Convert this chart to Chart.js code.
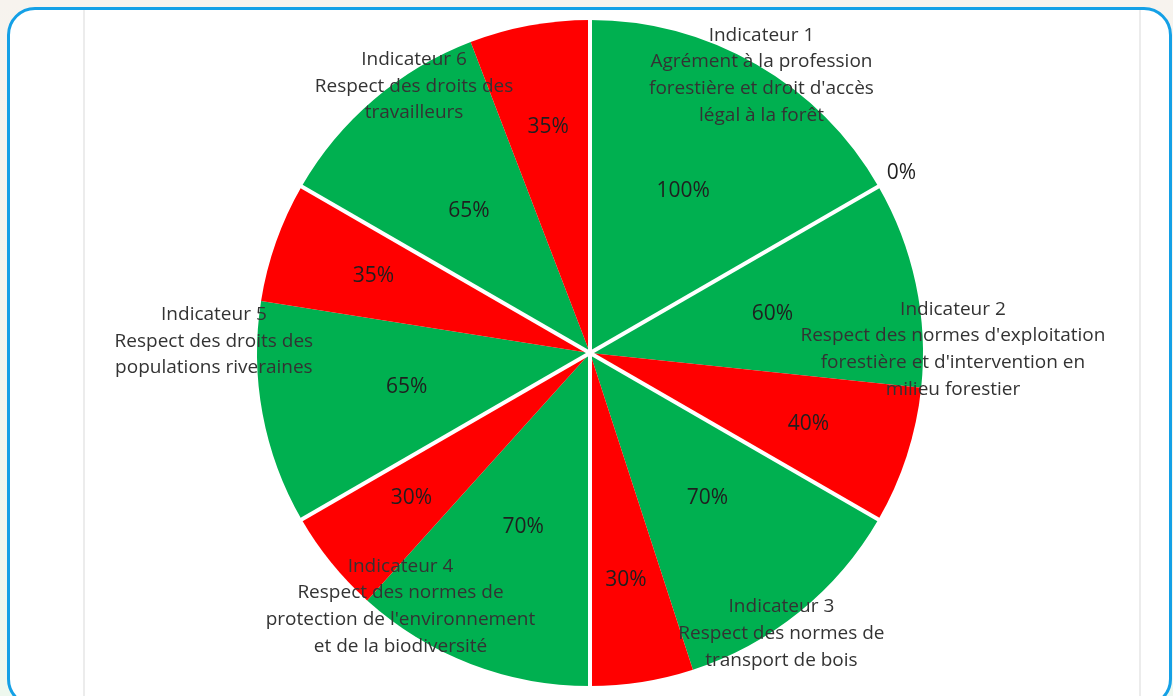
<!DOCTYPE html>
<html lang="fr">
<head>
<meta charset="utf-8">
<title>Indicateurs</title>
<script src="https://cdn.jsdelivr.net/npm/chart.js@4/dist/chart.umd.min.js"></script>
<style>
    html, body {
        margin: 0;
        padding: 0;
    }
    body {
        width: 1173px;
        height: 696px;
        overflow: hidden;
        position: relative;
        background: linear-gradient(#f7f3ee, #eef8ee);
    }
    .frame {
        position: absolute;
        left: 7px;
        top: 7px;
        width: 1165px;
        height: 700px;
        box-sizing: border-box;
        border: 3px solid #14a0e6;
        border-radius: 28px;
        background: #fff;
    }
    .sheet {
        position: absolute;
        left: 83px;
        top: 10px;
        width: 1058px;
        height: 700px;
        box-sizing: border-box;
        border-left: 2px solid #ececec;
        border-right: 2px solid #ececec;
    }
    #pie {
        position: absolute;
        left: 0;
        top: 0;
    }
</style>
</head>
<body>
<div class="frame"></div>
<div class="sheet"></div>
<canvas id="pie" width="1173" height="696"></canvas>

<script>
// Données
const indicators = ['Indicateur 1', 'Indicateur 2', 'Indicateur 3', 'Indicateur 4', 'Indicateur 5', 'Indicateur 6'];
const descriptions = [
    ['Agrément à la profession', 'forestière et droit d\'accès', 'légal à la forêt'],
    ['Respect des normes d\'exploitation', 'forestière et d\'intervention en', 'milieu forestier'],
    ['Respect des normes de', 'transport de bois'],
    ['Respect des normes de', 'protection de l\'environnement', 'et de la biodiversité'],
    ['Respect des droits des', 'populations riveraines'],
    ['Respect des droits des', 'travailleurs'],
];
const compliant = [100, 60, 70, 70, 65, 65];
const nonCompliant = [0, 40, 30, 30, 35, 35];

// Mise en page des étiquettes (angle depuis le haut, rayon relatif)
const nameAnchors = [[31.7, 0.98], [89.4, 1.09], [145.7, 1.02], [216.8, 0.95], [271.8, 1.13], [326.6, 0.96]];

const GREEN = '#00b050';
const RED = '#ff0000';
const FONT = '"Open Sans", "Noto Sans", sans-serif';

const values = [];
const colors = [];
const kinds = [];
indicators.forEach((name, i) => {
    values.push(compliant[i], nonCompliant[i]);
    colors.push(GREEN, RED);
    kinds.push('ok', 'ko');
});

const separators = {
    id: 'separators',
    afterDatasetsDraw(chart) {
        const { ctx } = chart;
        const arcs = chart.getDatasetMeta(0).data;
        ctx.save();
        ctx.strokeStyle = '#ffffff';
        ctx.lineWidth = 4;
        for (let i = 0; i < arcs.length; i += 2) {
            const arc = arcs[i];
            const r = arc.outerRadius + 2;
            ctx.beginPath();
            ctx.moveTo(arc.x, arc.y);
            ctx.lineTo(arc.x + Math.cos(arc.startAngle) * r, arc.y + Math.sin(arc.startAngle) * r);
            ctx.stroke();
        }
        ctx.restore();
    },
};

const labels = {
    id: 'labels',
    afterDraw(chart) {
        const { ctx } = chart;
        const arcs = chart.getDatasetMeta(0).data;
        const cx = arcs[0].x;
        const cy = arcs[0].y;
        const R = arcs[0].outerRadius;
        ctx.save();
        ctx.textAlign = 'center';
        ctx.textBaseline = 'middle';

        // pourcentages
        ctx.font = `21px ${FONT}`;
        ctx.fillStyle = '#1f1f1f';
        arcs.forEach((arc, i) => {
            const mid = (arc.startAngle + arc.endAngle) / 2;
            let f = kinds[i] === 'ok' ? 0.56 : 0.69;
            if (values[i] === 0) f = 1.08;
            ctx.fillText(`${values[i]}%`, cx + Math.cos(mid) * R * f, cy + Math.sin(mid) * R * f);
        });

        // noms des indicateurs
        ctx.font = `19px ${FONT}`;
        ctx.fillStyle = '#333333';
        const lh = 26.7;
        indicators.forEach((name, i) => {
            const lines = [name, ...descriptions[i]];
            const a = nameAnchors[i][0] * Math.PI / 180 - Math.PI / 2;
            const bx = cx + Math.cos(a) * R * nameAnchors[i][1];
            const by = cy + Math.sin(a) * R * nameAnchors[i][1];
            const top = by - (lines.length - 1) * lh / 2;
            lines.forEach((line, k) => ctx.fillText(line, bx, top + k * lh));
        });
        ctx.restore();
    },
};

new Chart(document.getElementById('pie'), {
    type: 'pie',
    data: {
        labels: values.map((v, i) => indicators[Math.floor(i / 2)]),
        datasets: [
            {
                data: values,
                backgroundColor: colors,
                borderWidth: 0,
            },
        ],
    },
    options: {
        responsive: false,
        animation: false,
        layout: {
            padding: { top: 20, bottom: 10, left: 7, right: 0 },
        },
        plugins: {
            legend: { display: false },
            tooltip: { enabled: false },
        },
    },
    plugins: [separators, labels],
});
</script>
</body>
</html>
